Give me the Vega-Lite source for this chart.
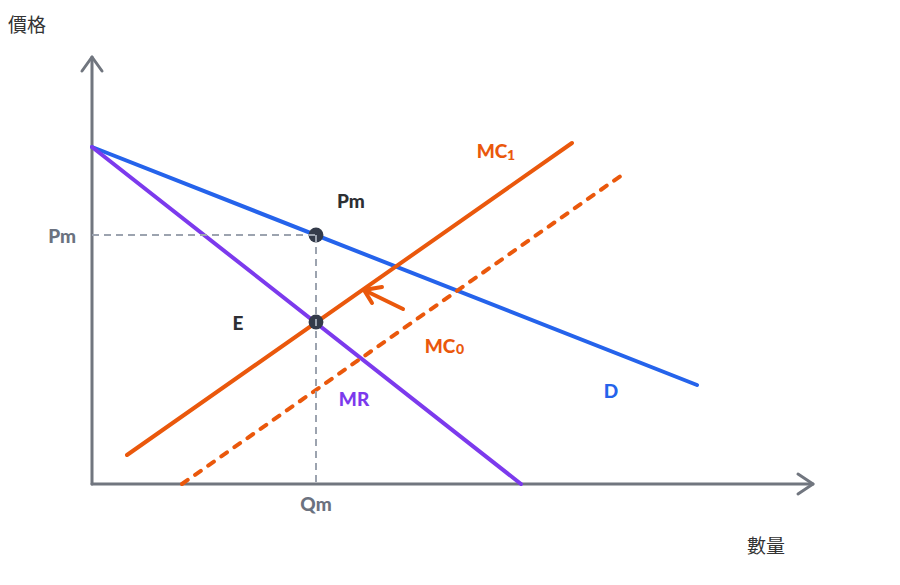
{
  "$schema": "https://vega.github.io/schema/vega-lite/v6.json",
  "width": 900,
  "height": 585,
  "autosize": {"type": "fit", "contains": "padding"},
  "padding": 0,
  "background": "white",
  "config": {"view": {"stroke": null}},
  "datasets": {
    "axes": [
      {"id": "yaxis", "o": 1, "x": 0, "y": 0},
      {"id": "yaxis", "o": 2, "x": 0, "y": 427},
      {"id": "yarrow", "o": 1, "x": -10, "y": 413},
      {"id": "yarrow", "o": 2, "x": 0, "y": 427},
      {"id": "yarrow", "o": 3, "x": 10, "y": 413},
      {"id": "xaxis", "o": 1, "x": 0, "y": 0},
      {"id": "xaxis", "o": 2, "x": 721, "y": 0},
      {"id": "xarrow", "o": 1, "x": 706, "y": 10},
      {"id": "xarrow", "o": 2, "x": 721, "y": 0},
      {"id": "xarrow", "o": 3, "x": 706, "y": -10}
    ],
    "guides": [
      {"id": "h", "o": 1, "x": 0, "y": 249},
      {"id": "h", "o": 2, "x": 224, "y": 249},
      {"id": "v", "o": 1, "x": 224, "y": 249},
      {"id": "v", "o": 2, "x": 224, "y": 0}
    ],
    "curves": [
      {"id": "D", "series": "D", "o": 1, "x": 0, "y": 337},
      {"id": "D", "series": "D", "o": 2, "x": 605, "y": 99},
      {"id": "MR", "series": "MR", "o": 1, "x": 0, "y": 337},
      {"id": "MR", "series": "MR", "o": 2, "x": 429, "y": 0},
      {"id": "MC1", "series": "MC", "o": 1, "x": 35, "y": 29},
      {"id": "MC1", "series": "MC", "o": 2, "x": 480, "y": 341},
      {"id": "shift", "series": "MC", "o": 1, "x": 311, "y": 175},
      {"id": "shift", "series": "MC", "o": 2, "x": 272, "y": 194},
      {"id": "head", "series": "MC", "o": 1, "x": 290, "y": 197},
      {"id": "head", "series": "MC", "o": 2, "x": 272, "y": 194},
      {"id": "head", "series": "MC", "o": 3, "x": 280, "y": 181}
    ],
    "dashed": [
      {"id": "MC0", "series": "MC", "o": 1, "x": 90, "y": 0},
      {"id": "MC0", "series": "MC", "o": 2, "x": 530, "y": 309}
    ],
    "points": [
      {"name": "Pm", "x": 224, "y": 249},
      {"name": "E", "x": 224, "y": 162}
    ],
    "labels": [
      {"text": "Pm", "series": "dark", "x": 259, "y": 282},
      {"text": "E", "series": "dark", "x": 146, "y": 160},
      {"text": "MC", "series": "MC", "x": 400, "y": 332},
      {"text": "MC", "series": "MC", "x": 348, "y": 137},
      {"text": "MR", "series": "MR", "x": 262, "y": 84},
      {"text": "D", "series": "D", "x": 519, "y": 92},
      {"text": "Qm", "series": "axis", "x": 224, "y": -21}
    ],
    "subs": [
      {"text": "1", "series": "MC", "x": 419, "y": 328},
      {"text": "0", "series": "MC", "x": 368, "y": 134}
    ],
    "axislabels": [
      {"text": "Pm", "series": "axis", "x": -16, "y": 247}
    ],
    "titles": [
      {"text": "價格", "x": -84, "y": 458},
      {"text": "數量", "x": 655, "y": -63}
    ]
  },
  "encoding": {
    "x": {"field": "x", "type": "quantitative", "axis": null, "scale": {"domain": [-92, 808], "nice": false, "zero": false}},
    "y": {"field": "y", "type": "quantitative", "axis": null, "scale": {"domain": [-101, 484], "nice": false, "zero": false}}
  },
  "layer": [
    {
      "data": {"name": "axes"},
      "mark": {"type": "line", "color": "#71767f", "strokeWidth": 3, "strokeCap": "round", "strokeJoin": "round"},
      "encoding": {"detail": {"field": "id"}, "order": {"field": "o"}}
    },
    {
      "data": {"name": "curves"},
      "mark": {"type": "line", "strokeWidth": 4, "strokeCap": "round", "strokeJoin": "round"},
      "encoding": {
        "detail": {"field": "id"},
        "order": {"field": "o"},
        "color": {"field": "series", "type": "nominal", "legend": null,
          "scale": {"domain": ["D", "MR", "MC", "dark", "axis"], "range": ["#2563eb", "#7c3aed", "#ea580c", "#2d2f33", "#6b7280"]}}
      }
    },
    {
      "data": {"name": "dashed"},
      "mark": {"type": "line", "strokeWidth": 4, "strokeCap": "round", "strokeDash": [7, 9], "color": "#ea580c"},
      "encoding": {"detail": {"field": "id"}, "order": {"field": "o"}}
    },
    {
      "data": {"name": "points"},
      "mark": {"type": "point", "filled": true, "size": 220, "color": "#343b4a", "opacity": 1},
      "encoding": {}
    },
    {
      "data": {"name": "guides"},
      "mark": {"type": "line", "strokeWidth": 2, "strokeDash": [7, 5], "color": "#9ca3af"},
      "encoding": {"detail": {"field": "id"}, "order": {"field": "o"}}
    },
    {
      "data": {"name": "labels"},
      "mark": {"type": "text", "font": "Lato", "fontWeight": 900, "fontSize": 19, "align": "center", "baseline": "middle"},
      "encoding": {
        "text": {"field": "text"},
        "color": {"field": "series", "type": "nominal", "legend": null,
          "scale": {"domain": ["D", "MR", "MC", "dark", "axis"], "range": ["#2563eb", "#7c3aed", "#ea580c", "#2d2f33", "#6b7280"]}}
      }
    },
    {
      "data": {"name": "subs"},
      "mark": {"type": "text", "font": "Lato", "fontWeight": 900, "fontSize": 14, "align": "center", "baseline": "middle"},
      "encoding": {
        "text": {"field": "text"},
        "color": {"field": "series", "type": "nominal", "legend": null,
          "scale": {"domain": ["D", "MR", "MC", "dark", "axis"], "range": ["#2563eb", "#7c3aed", "#ea580c", "#2d2f33", "#6b7280"]}}
      }
    },
    {
      "data": {"name": "axislabels"},
      "mark": {"type": "text", "font": "Lato", "fontWeight": 900, "fontSize": 19, "align": "right", "baseline": "middle", "color": "#6b7280"},
      "encoding": {"text": {"field": "text"}}
    },
    {
      "data": {"name": "titles"},
      "mark": {"type": "text", "font": "Noto Sans CJK TC", "fontSize": 19, "align": "left", "baseline": "middle", "color": "#333333"},
      "encoding": {"text": {"field": "text"}}
    }
  ]
}
